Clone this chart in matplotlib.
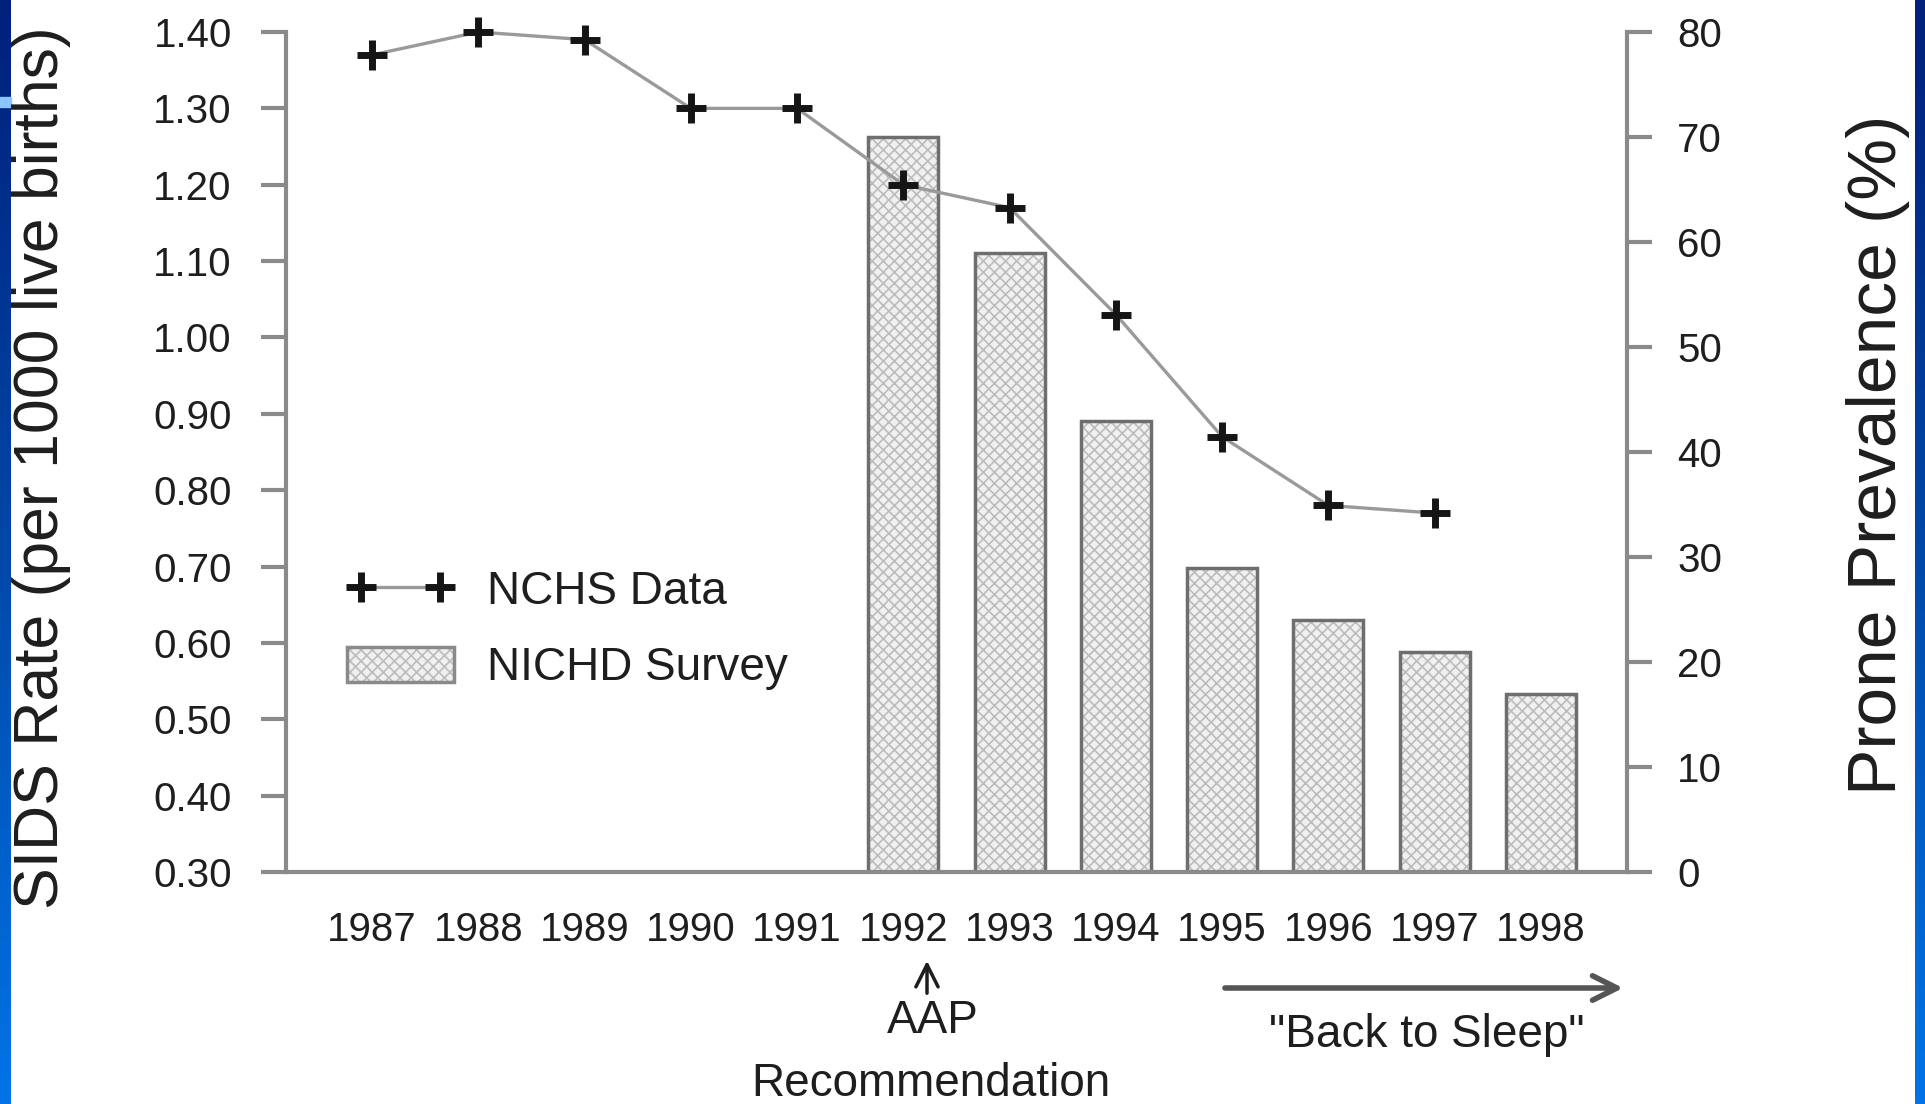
import numpy as np
import matplotlib
matplotlib.use("Agg")
import matplotlib.pyplot as plt
from matplotlib.lines import Line2D
from matplotlib.patches import Patch
from matplotlib.colors import LinearSegmentedColormap

plt.rcParams['font.family'] = ['Liberation Sans', 'DejaVu Sans']
plt.rcParams['hatch.linewidth'] = 1.2

years = ['1987', '1988', '1989', '1990', '1991', '1992',
         '1993', '1994', '1995', '1996', '1997', '1998']
# NCHS SIDS rate per 1000 live births (1987-1997)
sids_rate = [1.37, 1.40, 1.39, 1.30, 1.30, 1.20, 1.17, 1.03, 0.87, 0.78, 0.77]
# NICHD survey prone prevalence, % (1992-1998)
prone_years = ['1992', '1993', '1994', '1995', '1996', '1997', '1998']
prone_pct = [70, 59, 43, 29, 24, 21, 17]

left_ticks = [0.30, 0.40, 0.50, 0.60, 0.70, 0.80, 0.90, 1.00, 1.10, 1.20, 1.30, 1.40]
right_ticks = [0, 10, 20, 30, 40, 50, 60, 70, 80]

axis_col = '#8a8a8a'
txt_col = '#1e1e1e'

fig = plt.figure(figsize=(19.25, 11.04), dpi=100)
fig.patch.set_facecolor('white')

# blue strips at the slide edges
blue = LinearSegmentedColormap.from_list('slide', ['#00207a', '#0048a8', '#0074e8'])
grad = np.linspace(0, 1, 256).reshape(-1, 1)
for x0, w in [(0, 11), (1915, 10)]:
    bax = fig.add_axes([x0 / 1925, 0, w / 1925, 1])
    bax.imshow(grad, aspect='auto', cmap=blue)
    bax.set_axis_off()
fig.patches.append(plt.Rectangle((0, 1 - 107 / 1104), 11 / 1925, 10 / 1104,
                                 transform=fig.transFigure, color='#8cc4ff'))

ax = fig.add_axes([286 / 1925, 1 - 872 / 1104, 1341 / 1925, 840 / 1104])
ax2 = ax.twinx()

xpos = np.arange(len(years))
bar_x = [years.index(y) for y in prone_years]

# bars on the right axis
ax2.bar(bar_x, prone_pct, width=0.66, facecolor='#f0f0f0', edgecolor='#bcbcbc',
        hatch='xxx', linewidth=0)
ax2.bar(bar_x, prone_pct, width=0.66, fill=False, edgecolor='#6e6e6e', linewidth=2.5)

# line on the left axis, drawn above the bars
ax.set_zorder(ax2.get_zorder() + 1)
ax.patch.set_visible(False)
ax.plot(xpos[:len(sids_rate)], sids_rate, color='#9a9a9a', lw=2.4,
        marker='+', markersize=21, markeredgewidth=5, markeredgecolor='#151515',
        clip_on=False)

ax.set_xlim(-0.81, 11.81)
ax.set_ylim(0.30, 1.40)
ax2.set_ylim(0, 80)

ax.set_yticks(left_ticks)
ax.set_yticklabels(['%.2f' % t for t in left_ticks])
ax2.set_yticks(right_ticks)
ax.set_xticks(xpos)
ax.set_xticklabels(years)

for a in (ax, ax2):
    a.spines['top'].set_visible(False)
    for s in a.spines.values():
        s.set_color(axis_col)
        s.set_linewidth(3)
ax.spines['right'].set_visible(False)
ax2.spines['left'].set_visible(False)
ax2.spines['bottom'].set_visible(False)

ax.tick_params(axis='y', length=18, width=3, color=axis_col, pad=21,
               labelsize=29, labelcolor=txt_col)
ax2.tick_params(axis='y', length=18, width=3, color=axis_col, pad=18,
                labelsize=29, labelcolor=txt_col)
ax.tick_params(axis='x', length=0, pad=28, labelsize=29, labelcolor=txt_col)

fig.text(42 / 1925, 1 - 468 / 1104, 'SIDS Rate (per 1000 live births)', rotation=90,
         ha='center', va='center', fontsize=45, color=txt_col)
fig.text(1878 / 1925, 1 - 455 / 1104, 'Prone Prevalence (%)', rotation=90,
         ha='center', va='center', fontsize=50, color=txt_col)

# legend
h_line = Line2D([], [], color='#9a9a9a', lw=2.4, marker='+', markersize=21,
                markeredgewidth=5, markeredgecolor='#151515')
h_bar = (Patch(facecolor='#f0f0f0', edgecolor='#bcbcbc', hatch='xxx', linewidth=0),
         Patch(fill=False, edgecolor='#8a8a8a', linewidth=2.5))
ax.legend([h_line, h_bar], ['NCHS Data', 'NICHD Survey'], loc='center left',
          bbox_to_anchor=(347 / 1925, 1 - 630 / 1104), bbox_transform=fig.transFigure,
          frameon=False, fontsize=33, borderpad=0, borderaxespad=0, numpoints=2,
          handlelength=2.33, handleheight=0.8, handletextpad=0.72, labelspacing=0.7,
          labelcolor=txt_col)

# annotations under the axis
ax.annotate('', xy=(927 / 1925, 1 - 958 / 1104), xytext=(927 / 1925, 1 - 996 / 1104),
            xycoords='figure fraction',
            arrowprops=dict(arrowstyle='->', lw=2.5, color=txt_col, mutation_scale=40))
fig.text(933 / 1925, 1 - 1021 / 1104, 'AAP', ha='center', va='center',
         fontsize=33, color=txt_col)
fig.text(931 / 1925, 1 - 1084 / 1104, 'Recommendation', ha='center', va='center',
         fontsize=33, color=txt_col)

ax.annotate('', xy=(11.8, 1 - 988 / 1104), xytext=(8.0, 1 - 988 / 1104),
            xycoords=('data', 'figure fraction'), annotation_clip=False,
            arrowprops=dict(arrowstyle='->', lw=4, color='#555555', mutation_scale=44))
fig.text(1427 / 1925, 1 - 1035 / 1104, '"Back to Sleep"', ha='center', va='center',
         fontsize=33, color=txt_col)

fig.savefig('out.png', dpi=100)
